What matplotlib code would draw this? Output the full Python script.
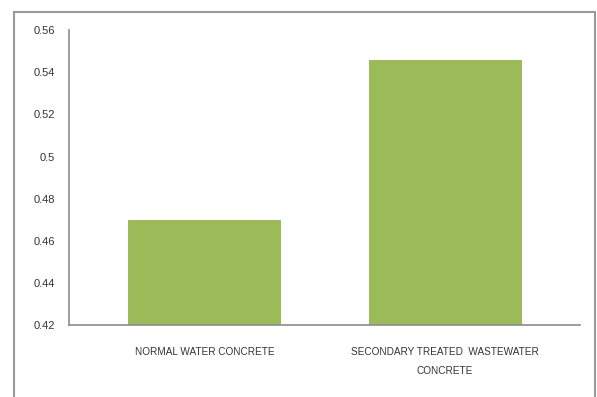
import matplotlib.pyplot as plt
from matplotlib.patches import Rectangle

# --- data ---
categories = ["NORMAL WATER CONCRETE", "SECONDARY TREATED  WASTEWATER\nCONCRETE"]
values = [0.470, 0.546]
y_ticks = [0.42, 0.44, 0.46, 0.48, 0.5, 0.52, 0.54, 0.56]
y_tick_labels = ["0.42", "0.44", "0.46", "0.48", "0.5", "0.52", "0.54", "0.56"]

plt.rcParams['font.family'] = ['Liberation Sans', 'DejaVu Sans']

fig = plt.figure(figsize=(5.97, 3.97), dpi=100)
ax = fig.add_axes([0.1156, 0.181, 0.856, 0.743])

x = list(range(len(categories)))
ax.bar(x, values, width=0.636, color='#9BBB59')

ax.set_ylim(0.42, 0.56)
ax.set_xlim(-0.563, 1.561)
ax.set_yticks(y_ticks)
ax.set_yticklabels(y_tick_labels, fontsize=8, color='#333333')
ax.set_xticks(x)
ax.set_xticklabels(categories, fontsize=7.2, color='#333333', linespacing=2.1)
ax.tick_params(axis='both', length=0)
ax.tick_params(axis='y', pad=10)
ax.tick_params(axis='x', pad=16)

for s in ['top', 'right']:
    ax.spines[s].set_visible(False)
for s in ['left', 'bottom']:
    ax.spines[s].set_color('#8c8c8c')
    ax.spines[s].set_linewidth(1.2)

# outer chart frame
fig.add_artist(Rectangle((0.0235, -0.05), 0.973, 1.02, transform=fig.transFigure,
                         fill=False, edgecolor='#9a9a9a', linewidth=1.5))

fig.savefig('out.png', dpi=100)
